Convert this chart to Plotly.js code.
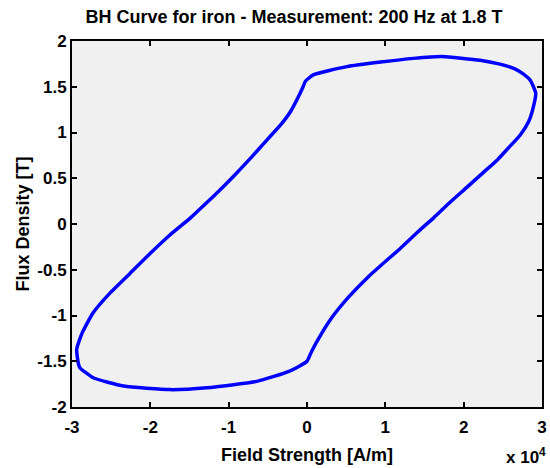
<!DOCTYPE html>
<html>
<head>
<meta charset="utf-8">
<script src="https://cdn.plot.ly/plotly-3.0.1.min.js"></script>
<style>html,body{margin:0;padding:0;background:#fff;}#chart{width:550px;height:468px;}</style>
</head>
<body>
<div id="chart"></div>
<script>
// Field strength H [A/m] and flux density B [T], traced around the hysteresis loop
const fieldStrength = [
  -500, -200, 800, 5100, 9400, 13600, 17200, 22100, 24500, 26400, 27600, 28500, 29200, 28900,
  28300, 27200, 25700, 24300, 22600, 20400, 18300, 16200, 14100, 12000, 10000,
  7900, 5300, 3200, 1700, 600, 0,
  -1100, -2300, -6400, -12800, -17500, -23400, -27300, -29000, -29200, -29400,
  -28700, -27300, -25100, -22600, -20000, -17500, -15100, -13600, -11500, -9400,
  -7200, -5100, -3400, -2100, -1100, -500
];
const fluxDensity = [
  1.50, 1.56, 1.63, 1.72, 1.77, 1.81, 1.83, 1.79, 1.75, 1.70, 1.64, 1.57, 1.43, 1.28,
  1.12, 0.97, 0.83, 0.70, 0.57, 0.40, 0.24, 0.07, -0.09, -0.26, -0.41,
  -0.57, -0.80, -1.02, -1.22, -1.39, -1.50,
  -1.56, -1.61, -1.72, -1.79, -1.81, -1.77, -1.68, -1.57, -1.52, -1.37,
  -1.19, -0.97, -0.75, -0.54, -0.32, -0.12, 0.05, 0.17, 0.34, 0.52,
  0.72, 0.92, 1.08, 1.23, 1.39, 1.50
];
const xTickVals = [-30000, -20000, -10000, 0, 10000, 20000, 30000];
const xTickText = ['-3', '-2', '-1', '0', '1', '2', '3'];
const yTickVals = [-2, -1.5, -1, -0.5, 0, 0.5, 1, 1.5, 2];
const yTickText = ['-2', '-1.5', '-1', '-0.5', '0', '0.5', '1', '1.5', '2'];

const FONT = '"Liberation Sans", Arial, Helvetica, sans-serif';

const trace = {
  x: fieldStrength,
  y: fluxDensity,
  type: 'scatter',
  mode: 'lines',
  line: {color: '#0000FF', width: 3.5, shape: 'spline', smoothing: 0.5},
  hoverinfo: 'skip'
};

const axisCommon = {
  showgrid: false,
  zeroline: false,
  showline: true,
  linecolor: '#000',
  linewidth: 2,
  mirror: 'allticks',
  ticks: 'inside',
  ticklen: 5,
  tickwidth: 2,
  tickcolor: '#000',
  tickfont: {family: FONT, size: 17, color: '#000', weight: 'bold'},
  tickmode: 'array'
};

const layout = {
  width: 550,
  height: 468,
  margin: {l: 72, r: 8, t: 41, b: 61},
  paper_bgcolor: '#ffffff',
  plot_bgcolor: '#f0f0f0',
  showlegend: false,
  title: {
    text: 'BH Curve for iron - Measurement: 200 Hz at 1.8 T',
    font: {family: FONT, size: 18, color: '#000', weight: 'bold'},
    x: 294 / 550, xref: 'container', xanchor: 'center',
    y: 1 - 17 / 468, yref: 'container', yanchor: 'middle'
  },
  xaxis: Object.assign({}, axisCommon, {
    range: [-30000, 30000],
    tickvals: xTickVals,
    ticktext: xTickText,
    ticklabelstandoff: 4,
    title: {text: 'Field Strength [A/m]', font: {family: FONT, size: 18, color: '#000', weight: 'bold'}, standoff: 12}
  }),
  yaxis: Object.assign({}, axisCommon, {
    range: [-2, 2],
    tickvals: yTickVals,
    ticktext: yTickText,
    title: {text: 'Flux Density [T]', font: {family: FONT, size: 18, color: '#000', weight: 'bold'}, standoff: 3}
  }),
  annotations: [{
    text: 'x 10<sup>4</sup>',
    xref: 'paper', yref: 'paper',
    x: 1.0, y: 0, xanchor: 'right', yanchor: 'top', xshift: 6, yshift: -36,
    showarrow: false,
    font: {family: FONT, size: 17, color: '#000', weight: 'bold'}
  }]
};

Plotly.newPlot('chart', [trace], layout, {displayModeBar: false, staticPlot: true});
</script>
</body>
</html>
